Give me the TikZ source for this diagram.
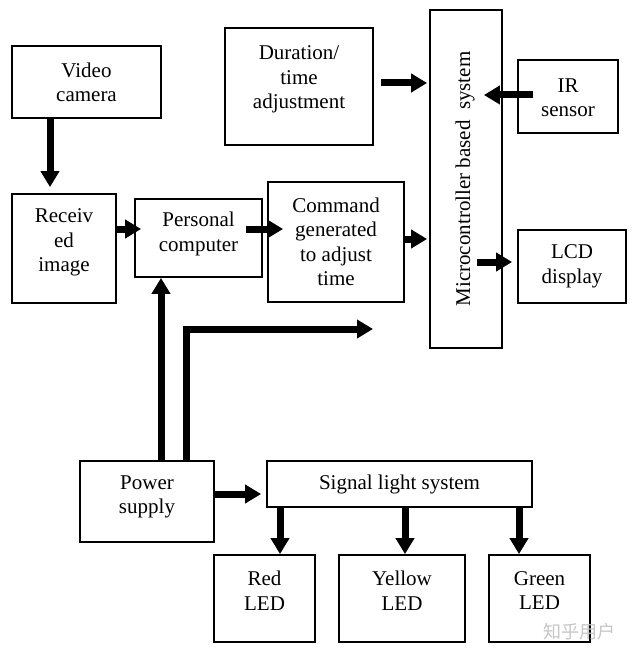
\documentclass[tikz,border=0pt]{standalone}
\usepackage{fontspec}
\setmainfont{Liberation Serif}
\newfontfamily\cjk{Noto Sans CJK SC}
\usetikzlibrary{arrows.meta,calc}
\begin{document}
\begin{tikzpicture}[x=1pt,y=-1pt,
  box/.style={draw=black,line width=1.8pt,inner sep=0pt,minimum width=#1},
  lbl/.style={font=\fontsize{21}{24.5}\selectfont,align=center,inner sep=0pt},
  arr/.style={line width=7pt,-{Triangle[length=16pt,width=18pt]}},
  wmark/.style={font=\cjk\fontsize{18}{18}\selectfont,text=gray!45,inner sep=0pt}]
\useasboundingbox (0,0) rectangle (636,655);
\fill[white] (0,0) rectangle (636,655);

% boxes
\node[box=149pt,minimum height=72pt] (cam) at (86.5,82) {};
\node[box=104pt,minimum height=109pt] (rec) at (64,248.5) {};
\node[box=127pt,minimum height=78pt] (pc) at (198.5,238) {};
\node[box=136pt,minimum height=120pt] (cmd) at (336,242) {};
\node[box=148pt,minimum height=117pt] (dur) at (299,86.5) {};
\node[box=72pt,minimum height=338pt] (mcu) at (466,179) {};
\node[box=100pt,minimum height=73pt] (ir) at (568,96.5) {};
\node[box=108pt,minimum height=73pt] (lcd) at (572,266.5) {};
\node[box=134pt,minimum height=81pt] (pwr) at (147,501.5) {};
\node[box=265pt,minimum height=46pt] (sig) at (399.5,484) {};
\node[box=101pt,minimum height=87pt] (red) at (264.5,598.5) {};
\node[box=126pt,minimum height=87pt] (yel) at (402,598.5) {};
\node[box=101pt,minimum height=87pt] (grn) at (539.5,598.5) {};

% texts
\node[lbl] (tcam) at ($(cam.center)+(0,0.5)$) {Video\\camera};
\node[lbl] (trec) at ($(rec.center)+(0,-6)$) {Receiv\\ed\\image};
\node[lbl] (tpc) at ($(pc.center)+(0,-4)$) {Personal\\computer};
\node[lbl] (tcmd) at (cmd.center) {Command\\generated\\to adjust\\time};
\node[lbl] (tdur) at ($(dur.center)+(0,-7)$) {Duration/\\time\\adjustment};
\node[lbl,rotate=90] (tmcu) at ($(mcu.center)+(-1,0)$) {Microcontroller based~~system};
\node[lbl] (tir) at ($(ir.center)+(0,1)$) {IR\\sensor};
\node[lbl] (tlcd) at (lcd.center) {LCD\\display};
\node[lbl] (tpwr) at ($(pwr.center)+(0,-4.5)$) {Power\\supply};
\node[lbl] (tsig) at (sig.center) {Signal light system};
\node[lbl] (tred) at ($(red.center)+(0,-8)$) {Red\\LED};
\node[lbl] (tyel) at ($(yel.center)+(0,-8)$) {Yellow\\LED};
\node[lbl] (tgrn) at ($(grn.center)+(0,-8)$) {Green\\LED};
\node[wmark] (wm) at (579,632) {知乎用户};

% connectors
\draw[arr] ($(cam.south)+(-36.5,0)$) -- ($(rec.north)+(-14,-6)$);
\draw[arr] ($(rec.east)+(0,-19.5)$) -- ($(pc.west)+(7,-9)$);
\draw[arr] ($(pc.east)+(-17,-9)$) -- ($(cmd.west)+(16,-13)$);
\draw[arr] ($(cmd.east)+(0,-3)$) -- ($(mcu.west)+(-2,60)$);
\draw[arr] ($(dur.east)+(7,-3.5)$) -- ($(mcu.west)+(-2,-96)$);
\draw[arr] ($(ir.west)+(16,-1.5)$) -- ($(mcu.east)+(-19,-84)$);
\draw[arr] ($(mcu.east)+(-26,83)$) -- ($(lcd.west)+(-5,-4.5)$);
\draw[arr] ($(pwr.north)+(14,0)$) -- ($(pc.south)+(-37.5,0)$);
\coordinate (free) at (373,329);
\draw[arr] ($(pwr.north)+(39,0)$) |- (free);
\draw[arr] ($(pwr.east)+(0,-7.5)$) -- ($(sig.west)+(-5,10)$);
\draw[arr] ($(sig.south)+(-119.5,0)$) -- ($(red.north)+(15.5,0)$);
\draw[arr] ($(sig.south)+(5.5,0)$) -- ($(yel.north)+(3,0)$);
\draw[arr] ($(sig.south)+(119.5,0)$) -- ($(grn.north)+(-20.5,0)$);
\end{tikzpicture}
\end{document}
